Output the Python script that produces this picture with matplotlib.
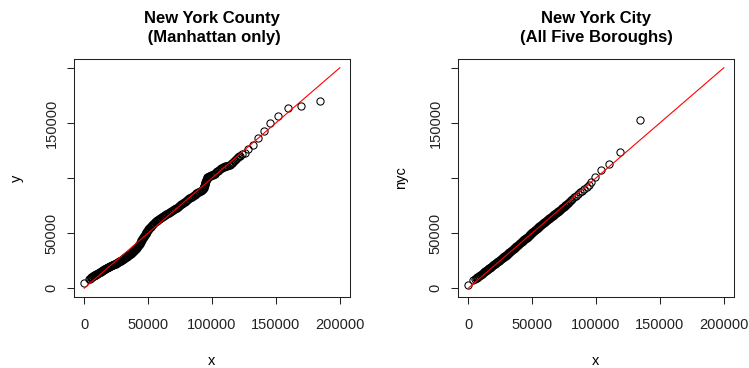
import numpy as np
import matplotlib
matplotlib.use('Agg')
import matplotlib.pyplot as plt

plt.rcParams['font.family'] = ['Liberation Sans', 'DejaVu Sans']

# Quantile pairs (thousands of dollars): reference sample x vs. Manhattan tracts
manh_x = [0.0, 3.4, 4.4, 5.0, 5.5, 6.0, 6.4, 6.8, 7.2, 7.5, 7.9, 8.3, 8.7, 9.0, 9.4, 9.8,
          10.2, 10.6, 11.0, 11.5, 12.0, 12.5, 12.9, 13.3, 13.7, 14.1, 14.6, 15.0, 15.4, 15.8,
          16.2, 16.6, 17.1, 17.5, 17.9, 18.3, 18.8, 19.2, 19.6, 20.0, 20.5, 20.9, 21.4, 21.8,
          22.4, 22.9, 23.3, 23.7, 24.2, 24.6, 25.1, 25.5, 25.9, 26.3, 26.8, 27.2, 27.6, 28.0,
          28.5, 28.9, 29.4, 29.8, 30.2, 30.6, 31.1, 31.5, 31.9, 32.3, 32.8, 33.2, 33.6, 34.0,
          34.5, 34.9, 35.4, 35.9, 36.3, 36.7, 37.2, 37.6, 38.1, 38.5, 38.9, 39.3, 39.8, 40.2,
          40.6, 41.0, 41.4, 41.8, 42.2, 42.6, 43.0, 43.4, 43.8, 44.1, 44.5, 44.8, 45.2, 45.5,
          45.9, 46.2, 46.6, 46.9, 47.3, 47.6, 48.0, 48.3, 48.7, 49.0, 49.4, 49.8, 50.2, 50.6,
          51.0, 51.4, 51.9, 52.3, 52.8, 53.2, 53.7, 54.1, 54.6, 55.1, 55.6, 56.1, 56.7, 57.2,
          57.8, 58.3, 58.9, 59.4, 60.0, 60.6, 61.2, 61.8, 62.4, 63.0, 63.6, 64.2, 64.9, 65.5,
          66.2, 66.8, 67.5, 68.1, 68.8, 69.5, 70.2, 70.9, 71.7, 72.4, 73.1, 73.8, 74.5, 75.2,
          75.9, 76.6, 77.3, 78.0, 78.7, 79.4, 80.1, 80.8, 81.5, 82.2, 82.9, 83.6, 84.3, 85.0,
          85.7, 86.4, 87.1, 87.8, 88.5, 89.2, 89.9, 90.6, 91.2, 91.8, 92.3, 92.8, 93.1, 93.4,
          93.7, 93.9, 94.1, 94.3, 94.5, 94.7, 94.9, 95.1, 95.3, 95.5, 95.7, 95.9, 96.3, 96.8,
          97.4, 98.0, 98.6, 99.3, 99.9, 100.6, 101.3, 102.0, 102.7, 103.4, 104.1, 104.8, 105.5,
          106.2, 107.0, 107.8, 108.6, 109.5, 110.4, 111.3, 112.1, 113.0, 113.8, 114.6, 115.3,
          116.0, 116.7, 117.4, 118.1, 118.8, 119.5, 120.3, 121.1, 122.0, 123.8, 125.8, 128.1,
          131.8, 135.9, 140.4, 145.6, 151.3, 159.4, 169.5, 184.4]
manh_y = [4.8, 7.9, 8.6, 9.2, 9.8, 10.3, 10.6, 10.9, 11.2, 11.4, 11.6, 11.9, 12.2, 12.4, 12.6,
          12.9, 13.2, 13.5, 13.8, 14.1, 14.5, 14.9, 15.1, 15.4, 15.7, 16.0, 16.3, 16.6, 16.8,
          17.1, 17.4, 17.7, 17.9, 18.2, 18.5, 18.8, 19.0, 19.3, 19.5, 19.8, 20.0, 20.3, 20.6,
          20.9, 21.1, 21.4, 21.6, 21.9, 22.1, 22.4, 22.6, 22.9, 23.2, 23.5, 23.8, 24.1, 24.4,
          24.7, 25.0, 25.3, 25.6, 26.0, 26.3, 26.6, 26.9, 27.2, 27.5, 27.9, 28.2, 28.6, 28.9,
          29.3, 29.7, 30.1, 30.5, 30.9, 31.3, 31.7, 32.1, 32.6, 33.0, 33.5, 34.0, 34.5, 35.0,
          35.6, 36.2, 36.8, 37.4, 38.0, 38.6, 39.3, 39.9, 40.5, 41.2, 41.9, 42.6, 43.3, 44.0,
          44.7, 45.4, 46.1, 46.8, 47.5, 48.1, 48.8, 49.5, 50.1, 50.7, 51.3, 52.0, 52.6, 53.3,
          53.9, 54.5, 55.1, 55.7, 56.3, 56.9, 57.5, 58.1, 58.7, 59.3, 59.8, 60.3, 60.8, 61.3,
          61.8, 62.3, 62.7, 63.2, 63.6, 64.1, 64.5, 65.0, 65.4, 65.9, 66.3, 66.8, 67.2, 67.7,
          68.1, 68.6, 69.0, 69.5, 70.0, 70.5, 71.0, 71.5, 72.0, 72.6, 73.1, 73.7, 74.2, 74.8,
          75.4, 76.0, 76.6, 77.2, 77.8, 78.4, 79.0, 79.6, 80.2, 80.8, 81.4, 82.0, 82.6, 83.2,
          83.8, 84.4, 85.0, 85.6, 86.1, 86.7, 87.2, 87.7, 88.1, 88.5, 88.9, 89.3, 89.7, 90.2,
          90.8, 91.5, 92.3, 93.0, 93.8, 94.6, 95.4, 96.2, 97.0, 97.8, 98.6, 99.3, 100.0, 100.5,
          100.9, 101.3, 101.6, 102.0, 102.3, 102.6, 103.0, 103.5, 104.0, 104.6, 105.3, 106.0,
          106.8, 107.5, 108.3, 108.9, 109.4, 109.8, 110.2, 110.5, 110.9, 111.2, 111.6, 112.0,
          112.5, 113.2, 114.0, 114.9, 115.8, 116.6, 117.4, 118.2, 119.0, 119.7, 120.4, 121.7,
          123.0, 126.6, 130.3, 136.1, 142.7, 149.5, 155.9, 163.2, 165.6, 170.1]

# Quantile pairs (thousands of dollars): reference sample x vs. all NYC tracts
nyc_x = [0.0, 4.1, 5.2, 6.0, 6.6, 7.2, 7.7, 8.3, 8.8, 9.4, 9.9, 10.4, 10.8, 11.3, 11.7, 12.2,
         12.6, 13.1, 13.5, 14.0, 14.4, 14.9, 15.3, 15.8, 16.2, 16.6, 17.1, 17.5, 18.0, 18.4,
         18.8, 19.3, 19.7, 20.2, 20.6, 21.1, 21.5, 22.0, 22.4, 22.9, 23.3, 23.8, 24.2, 24.7,
         25.1, 25.6, 26.0, 26.5, 26.9, 27.4, 27.8, 28.3, 28.7, 29.2, 29.6, 30.1, 30.5, 31.0,
         31.4, 31.9, 32.3, 32.8, 33.2, 33.7, 34.1, 34.6, 35.0, 35.5, 35.9, 36.4, 36.8, 37.3,
         37.7, 38.2, 38.6, 39.1, 39.5, 40.0, 40.4, 40.9, 41.3, 41.8, 42.2, 42.7, 43.1, 43.6,
         44.0, 44.5, 44.9, 45.4, 45.8, 46.3, 46.7, 47.2, 47.6, 48.1, 48.5, 49.0, 49.4, 49.9,
         50.3, 50.8, 51.2, 51.7, 52.1, 52.6, 53.0, 53.5, 53.9, 54.4, 54.8, 55.3, 55.7, 56.2,
         56.6, 57.1, 57.5, 58.0, 58.5, 59.0, 59.5, 60.0, 60.5, 61.0, 61.5, 62.0, 62.5, 63.0,
         63.5, 64.0, 64.5, 65.0, 65.5, 66.0, 66.5, 67.0, 67.5, 68.0, 68.5, 69.0, 69.5, 70.0,
         70.5, 71.0, 71.5, 72.0, 72.5, 73.1, 73.6, 74.2, 74.8, 75.4, 76.0, 76.6, 77.2, 77.8,
         78.4, 79.0, 79.6, 80.3, 81.6, 83.0, 84.5, 86.0, 87.6, 89.2, 90.9, 92.7, 94.4, 96.1,
         99.5, 104.1, 109.9, 119.0, 134.6]
nyc_y = [2.7, 7.3, 8.3, 9.0, 9.5, 9.9, 10.3, 10.8, 11.3, 11.9, 12.3, 12.8, 13.2, 13.6, 14.0,
         14.4, 14.8, 15.2, 15.6, 16.0, 16.4, 16.8, 17.2, 17.6, 17.9, 18.3, 18.7, 19.1, 19.5,
         19.9, 20.3, 20.7, 21.1, 21.5, 21.9, 22.3, 22.7, 23.1, 23.5, 23.9, 24.3, 24.7, 25.1,
         25.5, 25.9, 26.3, 26.7, 27.1, 27.5, 27.9, 28.4, 28.8, 29.2, 29.6, 30.0, 30.4, 30.9,
         31.3, 31.7, 32.1, 32.6, 33.0, 33.4, 33.8, 34.3, 34.7, 35.2, 35.6, 36.1, 36.5, 37.0,
         37.4, 37.9, 38.3, 38.8, 39.2, 39.7, 40.1, 40.6, 41.0, 41.5, 41.9, 42.4, 42.8, 43.3,
         43.7, 44.2, 44.6, 45.1, 45.6, 46.0, 46.5, 46.9, 47.4, 47.9, 48.4, 48.8, 49.3, 49.8,
         50.3, 50.7, 51.2, 51.6, 52.1, 52.5, 53.0, 53.4, 53.9, 54.3, 54.8, 55.2, 55.7, 56.1,
         56.6, 57.0, 57.4, 57.9, 58.3, 58.8, 59.2, 59.7, 60.1, 60.6, 61.0, 61.5, 61.9, 62.4,
         62.8, 63.3, 63.7, 64.2, 64.6, 65.1, 65.5, 66.0, 66.4, 66.9, 67.3, 67.8, 68.3, 68.8,
         69.3, 69.8, 70.3, 70.8, 71.3, 71.8, 72.4, 72.9, 73.5, 74.0, 74.6, 75.2, 75.8, 76.4,
         77.0, 77.6, 78.2, 78.9, 79.6, 81.0, 82.4, 83.9, 85.5, 87.0, 88.6, 90.3, 92.0, 94.1,
         96.2, 101.1, 107.1, 112.3, 123.6, 152.5]

# reference line y = x
ref_line = [0, 200000]

ticks = [0, 50000, 100000, 150000, 200000]
xtick_labels = ['0', '50000', '100000', '150000', '200000']
ytick_labels = ['0', '50000', '', '150000', '']

panels = [
    (manh_x, manh_y, 'New York County\n (Manhattan only)', 'y', 74),
    (nyc_x, nyc_y, 'New York City\n(All Five Boroughs)', 'nyc', 458),
]

W, H = 749, 368
fig = plt.figure(figsize=(W / 100, H / 100), dpi=100)

for qx, qy, title, ylab, left_px in panels:
    ax = fig.add_axes([left_px / W, 71 / H, 276 / W, 238 / H])
    ax.plot(np.array(qx) * 1000, np.array(qy) * 1000, linestyle='none', marker='o',
            markersize=5.2, markerfacecolor='none', markeredgecolor='black',
            markeredgewidth=0.75)
    ax.plot(ref_line, ref_line, color='red', linewidth=0.8)
    ax.set_xlim(-8000, 208000)
    ax.set_ylim(-8000, 208000)
    ax.set_xticks(ticks)
    ax.set_xticklabels(xtick_labels)
    ax.set_yticks(ticks)
    ax.set_yticklabels(ytick_labels, rotation=90, va='center')
    ax.tick_params(length=5, width=0.75, labelsize=10.5, colors='#222222')
    ax.tick_params(axis='x', pad=10)
    ax.tick_params(axis='y', pad=6)
    for s in ax.spines.values():
        s.set_linewidth(0.75)
        s.set_color('#222222')
    ax.set_xlabel('x', fontsize=10.5, labelpad=16)
    ax.set_ylabel(ylab, fontsize=10.5, labelpad=15)
    ax.set_title(title, fontsize=12, fontweight='bold', pad=12, linespacing=1.35)

fig.savefig('out.png', dpi=100)
